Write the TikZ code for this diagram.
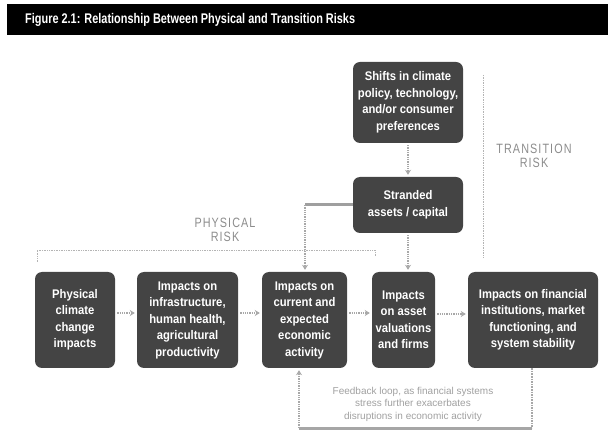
\documentclass[tikz,border=0pt]{standalone}
\usepackage{fontspec}
\usetikzlibrary{arrows.meta}
\setmainfont{Liberation Sans}
\newfontfamily\condbold{Liberation Sans}[FakeStretch=0.9]
\newfontfamily\titlefont{Liberation Sans}[FakeStretch=0.78]
\newfontfamily\riskfont{Liberation Sans}[FakeStretch=0.8, LetterSpace=8]
\definecolor{boxgray}{HTML}{444444}
\definecolor{arrgray}{HTML}{A8A8A8}
\definecolor{linegray}{HTML}{B4B4B4}
\definecolor{notegray}{HTML}{A0A0A0}
\definecolor{labelgray}{HTML}{8C8C8C}
\begin{document}
\begin{tikzpicture}[x=1pt, y=-1pt,
  riskbox/.style={fill=boxgray, rounded corners=7pt, text=white, align=center,
    inner sep=0pt, font=\condbold\bfseries\fontsize{12.5}{16.5}\selectfont},
  flowarrow/.style={draw=arrgray, line width=1.3pt, densely dotted,
    -{Stealth[length=5pt,width=6pt]}, shorten <=2pt, shorten >=2pt},
  divider/.style={draw=linegray, densely dotted, line width=0.7pt},
  risklabel/.style={text=labelgray, align=center,
    font=\riskfont\fontsize{13.5}{14}\selectfont},
  darklink/.style={draw=gray!75, line width=3pt},
  loopside/.style={draw=arrgray, line width=1.6pt, densely dotted},
  loopbottom/.style={draw=gray!70, line width=3pt}]
\useasboundingbox (0,0) rectangle (608,438);

% title bar
\fill[black] (7,4) rectangle (608,35);
\node[anchor=west, text=white, inner sep=0pt,
  font=\titlefont\bfseries\fontsize{14}{16}\selectfont] (title) at (25,20)
  {Figure 2.1: Relationship Between Physical and Transition Risks};

% transition chain
\node[riskbox, minimum width=110pt, minimum height=81pt] (shifts) at (408,102.5)
  {Shifts in climate\\policy, technology,\\and/or consumer\\preferences};
\node[riskbox, minimum width=110pt, minimum height=56pt] (stranded) at (408,205)
  {Stranded\\assets / capital};

% physical chain
\node[riskbox, minimum width=80pt, minimum height=96pt] (b1) at (75,320)
  {Physical\\climate\\change\\impacts};
\node[riskbox, minimum width=101pt, minimum height=96pt] (b2) at (187.5,320)
  {Impacts on\\infrastructure,\\human health,\\agricultural\\productivity};
\node[riskbox, minimum width=85pt, minimum height=96pt] (b3) at (304.5,320)
  {Impacts on\\current and\\expected\\economic\\activity};
\node[riskbox, minimum width=63pt, minimum height=96pt] (b4) at (403.5,320)
  {Impacts\\on asset\\valuations\\and firms};
\node[riskbox, minimum width=130pt, minimum height=96pt] (b5) at (533,320)
  {Impacts on financial\\institutions, market\\functioning, and\\system stability};

% region dividers and labels
\coordinate (hl0) at (37,262);
\coordinate (hl1) at (37,250);
\coordinate (hl2) at (375,250);
\coordinate (hl3) at (375,256);
\draw[divider] (hl0) -- (hl1) -- (hl2) -- (hl3);
\coordinate (vl0) at (483,75);
\coordinate (vl1) at (483,258);
\draw[divider] (vl0) -- (vl1);
\node[risklabel] (physlabel) at (225,230) {PHYSICAL\\RISK};
\node[risklabel] (translabel) at (534,156) {TRANSITION\\RISK};

% connectors along the chain
\draw[flowarrow] ([yshift=7pt]b1.east) -- ([yshift=7pt]b2.west);
\draw[flowarrow] ([yshift=7pt]b2.east) -- ([yshift=7pt]b3.west);
\draw[flowarrow] ([yshift=7pt]b3.east) -- ([yshift=7pt]b4.west);
\draw[flowarrow] ([yshift=6pt]b4.east) -- ([yshift=6pt]b5.west);
\draw[flowarrow] (shifts.south) -- (stranded.north);
\draw[flowarrow] (stranded.south) -- (stranded.south |- b4.north);

% stranded assets feeding economic activity
\coordinate (bend) at (305,205);
\draw[darklink] (stranded.west) -- (bend);
\draw[flowarrow, shorten <=0pt] (bend) -- (bend |- b3.north);

% feedback loop
\coordinate (loopR) at (532,428);
\coordinate (loopL) at (299,428);
\draw[loopside] (loopR |- b5.south) -- (loopR);
\draw[loopbottom] (loopR) -- (loopL);
\draw[flowarrow, line width=1.6pt, shorten <=0pt] (loopL) -- (loopL |- b3.south);
\node[text=notegray, align=center, font=\fontsize{10}{12.5}\selectfont] (note) at (413,404)
  {Feedback loop, as financial systems\\stress further exacerbates\\disruptions in economic activity};
\end{tikzpicture}
\end{document}
